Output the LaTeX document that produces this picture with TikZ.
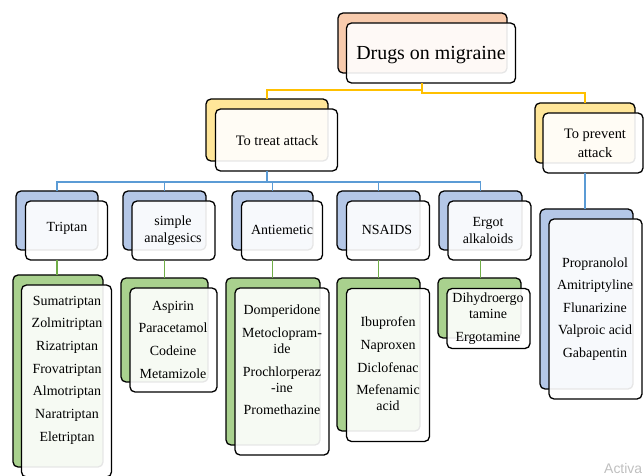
\documentclass[tikz,border=0pt]{standalone}
\usepackage{fontspec}
\setmainfont{Liberation Serif}
\newfontfamily\wmfont{Liberation Sans}
\usetikzlibrary{calc}
\definecolor{peach}{HTML}{F8CBAD}
\definecolor{ylw}{HTML}{FFE699}
\definecolor{blu}{HTML}{B4C7E7}
\definecolor{grn}{HTML}{A9D18E}
\definecolor{lyel}{HTML}{FFC000}
\definecolor{lblu}{HTML}{5B9BD5}
\definecolor{lgrn}{HTML}{70AD47}
\tikzset{
 boxbase/.style={draw=black, line width=1.3bp, rounded corners=5bp, inner sep=0pt, outer sep=0pt},
 backsty/.style={boxbase},
 frontsty/.style={boxbase, fill=white, fill opacity=0.9},
 lbl/.style={align=center, font=\fontsize{14}{16}\selectfont, inner sep=0pt},
 yline/.style={draw=lyel, line width=1.3bp},
 bline/.style={draw=lblu, line width=1.3bp},
 gline/.style={draw=lgrn, line width=1.3bp},
}
\newcommand\pbox[8]{%
 \node[backsty, fill=#2, minimum width={(#5-#3)*1bp}, minimum height={(#6-#4)*1bp}] (#1b) at ({(#3+#5)/2},{(#4+#6)/2}) {};
 \node[frontsty, minimum width={(#5-#3)*1bp}, minimum height={(#6-#4)*1bp}] (#1) at ({(#3+#5)/2+#7},{(#4+#6)/2+#8}) {};
}
\newcommand\ig{\\[6.7bp]}
\begin{document}
\begin{tikzpicture}[x=1bp,y=-1bp]
\useasboundingbox (0,0) rectangle (644,476);
\begin{scope}
\pbox{root}{peach}{338}{13}{507}{73}{8.5}{10}
\pbox{treat}{ylw}{206}{99}{328}{161}{9.5}{10}
\pbox{prev}{ylw}{535}{103}{635}{163}{8}{10}
\pbox{trip}{blu}{16}{191}{98}{250}{9.5}{10}
\pbox{simp}{blu}{123}{191}{206}{250}{9}{10}
\pbox{anti}{blu}{232}{191}{313}{250}{9.5}{10}
\pbox{nsa}{blu}{337}{191}{420}{250}{9.5}{10}
\pbox{erg}{blu}{439}{191}{522}{250}{9}{10}
\pbox{tlist}{grn}{13}{275}{103}{467}{8.5}{10}
\pbox{slist}{grn}{121}{278}{208}{382}{9}{10}
\pbox{alist}{grn}{226}{278}{320}{445}{9}{10}
\pbox{nlist}{grn}{337}{278}{420}{431}{9.5}{10.5}
\pbox{elist}{grn}{438}{278}{521}{338}{9}{10.5}
\pbox{plist}{blu}{540}{209}{633}{389}{9}{10}
\end{scope}
% connectors
\draw[yline] (treatb.north) -- ++(0,-9) -| ([xshift=-9bp]root.south);
\draw[yline] (prevb.north) -- ++(0,-10) -| ([xshift=-9bp]root.south);
\foreach \n in {tripb,simpb,antib,nsab,ergb}
  \draw[bline] (treatb.south |- treat.south) -- ++(0,11) -| (\n.north);
\draw[bline] (prevb.south |- prev.south) -- (prevb.south |- plistb.north);
\draw[gline] (tripb.south |- trip.south) -- (tripb.south |- tlistb.north);
\draw[gline] (simpb.south |- simp.south) -- (simpb.south |- slistb.north);
\draw[gline] (antib.south |- anti.south) -- (antib.south |- alistb.north);
\draw[gline] (nsab.south |- nsa.south) -- (nsab.south |- nlistb.north);
\draw[gline] (ergb.south |- erg.south) -- (ergb.south |- elistb.north);
% texts
\node[lbl, font=\fontsize{20}{24}\selectfont] (tRoot) at (431,55) {Drugs on migraine};
\node[lbl, font=\fontsize{14.5}{16}\selectfont] (tTreat) at (277,141) {To treat attack};
\node[lbl, font=\fontsize{14.5}{16}\selectfont] (tPrev) at (595,143) {To prevent\\[3bp]attack};
\node[lbl] (tTrip) at (67,228) {Triptan};
\node[lbl] (tSimp) at (173,230.5) {simple\\[1bp]analgesics};
\node[lbl] (tAnti) at (282,230) {Antiemetic};
\node[lbl] (tNsa) at (387,230) {NSAIDS};
\node[lbl] (tErg) at (488,230.5) {Ergot\\[1bp]alkaloids};
\node[lbl] (tTlist) at (67,370) {Sumatriptan\ig Zolmitriptan\ig Rizatriptan\ig Frovatriptan\ig Almotriptan\ig Naratriptan\ig Eletriptan};
\node[lbl] (tSlist) at (173,339.5) {Aspirin\ig Paracetamol\ig Codeine\ig Metamizole};
\node[lbl] (tAlist) at (282,360) {Domperidone\ig Metoclopram-\\ide\ig Prochlorperaz\\-ine\ig Promethazine};
\node[lbl] (tNlist) at (388,364) {Ibuprofen\ig Naproxen\ig Diclofenac\ig Mefenamic\\acid};
\node[lbl] (tElist) at (488,318.5) {Dihydroergo\\tamine\ig Ergotamine};
\node[lbl] (tPlist) at (595,309) {Propranolol\ig Amitriptyline\ig Flunarizine\ig Valproic acid\ig Gabapentin};
\node[font=\wmfont\fontsize{14}{16}\selectfont, text=black!25, anchor=base west, inner sep=0pt] (wm) at (604,473) {Activa};
\end{tikzpicture}
\end{document}
